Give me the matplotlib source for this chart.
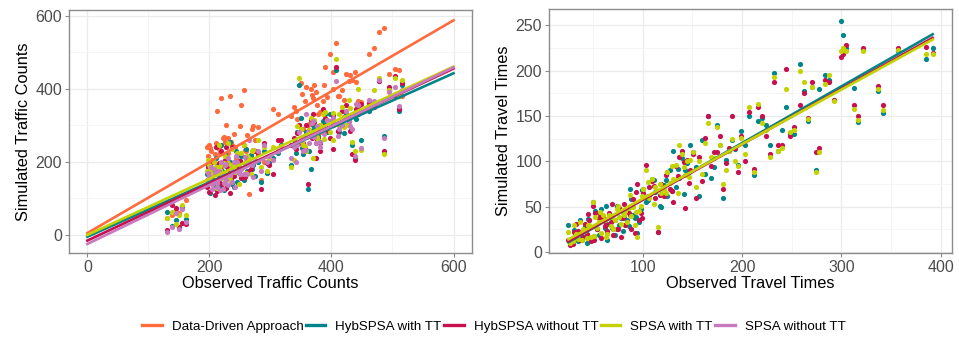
import numpy as np
import matplotlib
matplotlib.use("Agg")
import matplotlib.pyplot as plt
from matplotlib.lines import Line2D

plt.rcParams["font.family"] = ["Liberation Sans", "DejaVu Sans"]

methods = ["Data-Driven Approach", "HybSPSA with TT", "HybSPSA without TT",
           "SPSA with TT", "SPSA without TT"]
colors = ["#FF6B3D", "#00858A", "#C8104F", "#C4D300", "#C77BBE"]

# ---- left panel: traffic counts (one entry per link) ----
obs_counts = [130, 138, 145, 150, 155, 162,
              196, 198, 200, 202, 204, 207, 210, 213, 216, 219, 222, 225, 228, 231, 234,
              237, 240, 244, 248, 252, 256, 260, 265, 270, 275, 280, 285, 290, 294, 298,
              305, 312, 318,
              334, 338, 342, 346, 350, 354, 358, 362, 366, 370, 374, 378, 382, 386, 390,
              398, 403, 408, 413, 418, 423, 428, 433, 438, 443, 448,
              462, 470, 478, 486, 495, 504, 511, 516,
              199, 201, 205, 209, 212, 215, 218, 221, 224, 227, 230, 233, 236, 242, 246,
              250, 258, 262, 268, 272,
              344, 352, 357, 363, 368, 372, 377, 381, 388, 393, 402, 411, 421, 431, 441]

sim_counts_dd = [45, 55, 70, 60, 75, 95,
                 240, 215, 245, 230, 205, 200, 250, 340, 235, 375, 265, 255, 300, 225, 380,
                 245, 275, 210, 190, 355, 395, 230, 110, 290, 260, 295, 150, 200, 170, 195,
                 345, 330, 246,
                 325, 350, 340, 300, 415, 290, 405, 300, 400, 375, 390, 330, 280, 365, 460,
                 495, 400, 525, 380, 395, 440, 420, 425, 445, 365, 364,
                 495, 510, 555, 565, 440, 455, 450, 380,
                 190, 238, 181, 222, 240, 161, 224, 189, 267, 210, 266, 171, 255, 239, 205,
                 299, 233, 274, 219, 298,
                 316, 384, 366, 304, 383, 410, 355, 336, 411, 377, 446, 381, 368, 437, 417]
sim_counts_hyb_tt = [62, 25, 40, 20, 75, 42,
                     165, 190, 175, 200, 150, 170, 210, 140, 180, 245, 165, 220, 200, 185, 255,
                     140, 130, 230, 175, 215, 150, 235, 205, 180, 160, 200, 145, 230, 170, 195,
                     210, 225, 246,
                     190, 260, 225, 410, 320, 220, 280, 125, 180, 300, 250, 270, 290, 310, 330,
                     330, 300, 450, 280, 300, 330, 310, 245, 210, 330, 259,
                     340, 360, 420, 270, 395, 380, 340, 410,
                     163, 114, 157, 135, 188, 130, 157, 174, 121, 189, 156, 198, 150, 180, 143,
                     201, 197, 175, 219, 192,
                     281, 237, 270, 230, 283, 296, 265, 253, 303, 282, 329, 285, 278, 325, 318]
sim_counts_hyb_nott = [12, 80, 72, 20, 32, 30,
                       130, 185, 170, 195, 145, 165, 240, 120, 195, 230, 125, 205, 240, 180, 115,
                       240, 160, 185, 200, 155, 245, 210, 175, 190, 230, 220, 125, 250, 195, 190,
                       165, 260, 259,
                       245, 265, 235, 300, 255, 250, 300, 140, 315, 330, 210, 265, 230, 345, 320,
                       265, 235, 460, 300, 340, 355, 310, 220, 205, 350, 359,
                       360, 350, 420, 230, 405, 435, 345, 415,
                       116, 143, 161, 109, 176, 144, 186, 138, 165, 128, 185, 177, 155, 199, 172,
                       201, 157, 200, 179, 232,
                       278, 249, 238, 288, 266, 309, 263, 251, 297, 286, 328, 284, 322, 285, 343]
sim_counts_spsa_tt = [45, 62, 28, 55, 80, 54,
                      175, 205, 190, 180, 165, 200, 185, 150, 245, 190, 170, 215, 155, 250, 160,
                      235, 180, 195, 140, 225, 245, 170, 210, 230, 205, 260, 185, 240, 175, 210,
                      240, 230, 244,
                      185, 205, 250, 430, 290, 245, 230, 270, 320, 210, 280, 260, 300, 330, 335,
                      280, 260, 480, 330, 350, 300, 370, 255, 230, 400, 232,
                      350, 395, 430, 220, 395, 430, 379, 425,
                      143, 185, 138, 166, 128, 185, 178, 155, 197, 169, 197, 149, 191, 171, 224,
                      167, 198, 216, 165, 233,
                      298, 254, 243, 287, 276, 314, 268, 301, 261, 315, 332, 303, 296, 348, 331]
sim_counts_spsa_nott = [8, 22, 60, 15, 70, 35,
                        150, 170, 160, 185, 140, 180, 165, 130, 175, 200, 125, 190, 150, 210, 165,
                        145, 200, 215, 170, 180, 165, 200, 260, 190, 205, 230, 175, 245, 200, 215,
                        205, 230, 240,
                        210, 240, 200, 280, 260, 230, 330, 280, 270, 310, 250, 290, 240, 290, 295,
                        310, 320, 420, 290, 300, 340, 310, 290, 215, 355, 238,
                        370, 365, 425, 265, 390, 405, 352, 396,
                        156, 148, 126, 169, 142, 169, 121, 164, 141, 193, 136, 163, 180, 130, 198,
                        167, 213, 166, 196, 159,
                        246, 267, 231, 251, 305, 268, 297, 255, 276, 314, 312, 269, 322, 299, 357]

# ---- right panel: travel times ----
obs_tt = [25, 27, 30, 33, 35, 37, 40, 42, 44, 46, 48, 50, 52, 54, 56, 58, 60, 62,
          64, 66, 68, 70, 72, 74, 76, 78, 80, 82, 84, 86, 88, 90, 92, 94, 96, 98,
          100, 103, 106, 109, 112, 115, 118, 121, 124, 127, 130, 133, 136, 139, 142,
          145, 148, 151, 154, 157, 160, 163, 166, 169, 172, 175, 178, 181, 184, 187,
          190, 193, 196, 199,
          203, 207, 212, 216, 220, 224, 228, 232, 236, 240, 244, 248, 252, 258, 262,
          266, 270, 274, 278, 284, 288, 293, 300, 302, 305, 313, 317, 322, 337, 342,
          357, 385, 392,
          31, 39, 45, 51, 57, 63, 69, 75, 81, 87, 93, 99, 105, 111, 117, 123, 129, 135,
          141, 147]
sim_tt_hyb_tt = [30, 10, 14, 19, 12, 35, 17, 29, 10, 35, 15, 55, 45, 25, 19, 47, 35, 27,
                 13, 31, 39, 25, 19, 51, 30, 37, 23, 45, 35, 29, 59, 41, 37, 21, 33, 47,
                 70, 55, 62, 80, 66, 22, 50, 74, 62, 90, 112, 72, 82, 104, 90,
                 98, 118, 110, 94, 62, 124, 86, 150, 82, 94, 140, 118, 60, 102, 112,
                 124, 114, 96, 134,
                 118, 150, 85, 145, 148, 140, 118, 198, 112, 135, 160, 130, 130, 207, 178,
                 145, 182, 90, 180, 195, 190, 168, 255, 240, 225, 181, 144, 223, 178, 153,
                 222, 213, 225,
                 24, 15, 36, 18, 36, 51, 27, 49, 39, 69, 39, 68, 57, 79, 51, 79, 67, 92,
                 64, 88]
sim_tt_hyb_nott = [13, 8, 9, 31, 23, 13, 17, 31, 20, 35, 12, 51, 43, 25, 37, 15, 39, 29,
                   23, 43, 33, 19, 35, 25, 49, 17, 37, 30, 47, 43, 25, 59, 21, 75, 35, 43,
                   65, 96, 72, 78, 60, 22, 75, 62, 88, 70, 55, 95, 105, 112, 48,
                   102, 90, 108, 60, 105, 78, 126, 150, 95, 110, 110, 128, 70, 98, 115,
                   150, 115, 88, 128,
                   100, 155, 92, 160, 150, 128, 108, 188, 118, 118, 202, 128, 138, 162, 175,
                   148, 188, 110, 115, 190, 188, 168, 215, 218, 228, 162, 150, 225, 183, 162,
                   225, 226, 220,
                   22, 13, 42, 13, 42, 31, 53, 25, 53, 41, 66, 38, 62, 73, 63, 85, 67, 84,
                   99, 76]
sim_tt_spsa_tt = [22, 10, 12, 20, 14, 33, 25, 23, 15, 30, 17, 55, 39, 27, 33, 21, 41, 35,
                  20, 41, 29, 25, 35, 47, 39, 31, 43, 45, 33, 49, 40, 50, 30, 17, 45, 51,
                  70, 90, 60, 80, 72, 28, 65, 70, 88, 76, 80, 96, 118, 108, 85,
                  100, 102, 110, 72, 100, 86, 120, 142, 105, 104, 138, 118, 75, 90, 112,
                  125, 100, 95, 126,
                  108, 160, 88, 163, 142, 135, 105, 193, 112, 115, 180, 132, 135, 200, 188,
                  147, 182, 88, 110, 185, 195, 167, 222, 225, 222, 158, 146, 222, 180, 157,
                  223, 219, 218,
                  30, 13, 30, 18, 44, 16, 39, 51, 41, 63, 44, 62, 77, 53, 75, 65, 95, 65,
                  94, 83]

left_series = [sim_counts_dd, sim_counts_hyb_tt, sim_counts_hyb_nott,
               sim_counts_spsa_tt, sim_counts_spsa_nott]
right_series = [sim_tt_hyb_tt, sim_tt_hyb_nott, sim_tt_spsa_tt]

fig = plt.figure(figsize=(9.59, 3.39), dpi=100)
ax1 = fig.add_axes([0.072, 0.254, 0.420, 0.716])
ax2 = fig.add_axes([0.5725, 0.254, 0.4202, 0.719])


def style(ax):
    ax.set_axisbelow(True)
    ax.grid(which="major", color="#EBEBEB", lw=0.9)
    ax.grid(which="minor", color="#F4F4F4", lw=0.6)
    ax.tick_params(which="minor", length=0)
    ax.tick_params(which="major", length=3, color="#888888", labelsize=11.5,
                   labelcolor="#4D4D4D", pad=2)
    for s in ax.spines.values():
        s.set_color("#8C8C8C")
        s.set_linewidth(1.0)


# left: points, then linear fits drawn over the full x range
x = np.array(obs_counts)
for ys, c in zip(left_series, colors):
    ax1.scatter(x, ys, s=14, color=c, lw=0, zorder=2)
xs = np.array([0, 600])
for ys, c in zip(left_series, colors):
    b, a = np.polyfit(x, ys, 1)
    ax1.plot(xs, a + b * xs, color=c, lw=1.9, zorder=3)
ax1.set_xlim(-30, 630)
ax1.set_ylim(-50, 615)
ax1.set_xticks([0, 200, 400, 600])
ax1.set_yticks([0, 200, 400, 600])
ax1.set_xticks([100, 300, 500], minor=True)
ax1.set_yticks([100, 300, 500], minor=True)
ax1.set_xlabel("Observed Traffic Counts", fontsize=11.8, labelpad=1)
ax1.set_ylabel("Simulated Traffic Counts", fontsize=11.8, labelpad=3)
style(ax1)

# right: fits only over the data range
x = np.array(obs_tt)
for ys, c in zip(right_series, colors[1:4]):
    ax2.scatter(x, ys, s=14, color=c, lw=0, zorder=2)
xs = np.array([x.min(), x.max()])
for ys, c in zip(right_series, colors[1:4]):
    b, a = np.polyfit(x, ys, 1)
    ax2.plot(xs, a + b * xs, color=c, lw=1.9, zorder=3)
ax2.set_xlim(5.5, 411.5)
ax2.set_ylim(-1, 268)
ax2.set_xticks([100, 200, 300, 400])
ax2.set_yticks([0, 50, 100, 150, 200, 250])
ax2.set_xticks([50, 150, 250, 350], minor=True)
ax2.set_yticks([25, 75, 125, 175, 225], minor=True)
ax2.set_xlabel("Observed Travel Times", fontsize=11.8, labelpad=1)
ax2.set_ylabel("Simulated Travel Times", fontsize=11.8, labelpad=3)
style(ax2)

handles = [Line2D([], [], color=c, lw=2.4) for c in colors]
fig.legend(handles, methods, loc="center", bbox_to_anchor=(0.515, 0.036), ncol=5,
           frameon=False, fontsize=9.6, handlelength=1.45, handletextpad=0.75,
           columnspacing=0.2)

fig.savefig("out.png", dpi=100)
